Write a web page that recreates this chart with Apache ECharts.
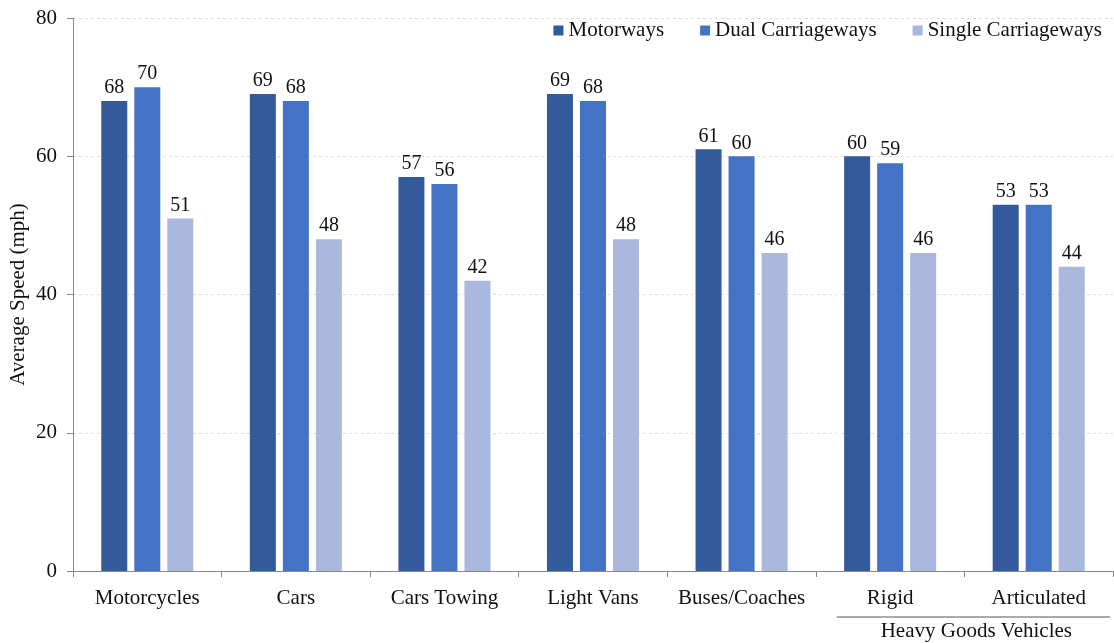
<!DOCTYPE html>
<html>
<head>
<meta charset="utf-8">
<script src="https://cdn.jsdelivr.net/npm/echarts@6/dist/echarts.min.js"></script>
<style>
  html, body { margin: 0; padding: 0; background: #fff; }
  #chart { width: 1114px; height: 643px; }
</style>
</head>
<body>
<div id="chart"></div>
<script>
// Average free-flow speeds by vehicle type and road class (mph)
const categories = ['Motorcycles', 'Cars', 'Cars Towing', 'Light Vans', 'Buses/Coaches', 'Rigid', 'Articulated'];
const motorways = [68, 69, 57, 69, 61, 60, 53];
const dualCarriageways = [70, 68, 56, 68, 60, 59, 53];
const singleCarriageways = [51, 48, 42, 48, 46, 46, 44];
const groupLabel = 'Heavy Goods Vehicles';
const groupFirst = 'Rigid';
const groupLast = 'Articulated';

const font = 'Liberation Serif, Times New Roman, serif';
const textColor = '#111';

const chart = echarts.init(document.getElementById('chart'));

function barSeries(name, data, color) {
  return {
    name: name,
    type: 'bar',
    data: data,
    barWidth: 26,
    barGap: '27%',
    itemStyle: { color: color },
    label: {
      show: true,
      position: 'top',
      distance: 3,
      fontFamily: font,
      fontSize: 20,
      color: textColor
    }
  };
}

chart.setOption({
  animation: false,
  textStyle: { fontFamily: font },
  grid: { left: 73, right: 1, top: 18, bottom: 72, containLabel: false, outerBoundsMode: 'none' },
  legend: {
    top: 15,
    right: 7,
    itemWidth: 10,
    itemHeight: 10,
    itemGap: 36,
    icon: 'rect',
    textStyle: { fontFamily: font, fontSize: 21, color: textColor }
  },
  xAxis: {
    type: 'category',
    data: categories,
    axisLine: { lineStyle: { color: '#888', width: 1 } },
    axisTick: { show: true, interval: 0, alignWithLabel: false, length: 6, lineStyle: { color: '#888' } },
    axisLabel: { interval: 0, fontFamily: font, fontSize: 21, color: textColor, margin: 17 }
  },
  yAxis: {
    type: 'value',
    min: 0,
    max: 80,
    interval: 20,
    name: 'Average Speed (mph)',
    nameLocation: 'middle',
    nameGap: 44,
    nameMoveOverlap: false,
    nameTextStyle: { fontFamily: font, fontSize: 21, color: textColor },
    axisLine: { show: true, lineStyle: { color: '#888', width: 1 } },
    axisTick: { show: true, length: 6, lineStyle: { color: '#888' } },
    axisLabel: { fontFamily: font, fontSize: 21, color: textColor, margin: 16 },
    splitLine: { show: true, lineStyle: { color: '#ddd', type: [3, 3], width: 1 } }
  },
  series: [
    barSeries('Motorways', motorways, '#345a9e'),
    barSeries('Dual Carriageways', dualCarriageways, '#4472c4'),
    barSeries('Single Carriageways', singleCarriageways, '#a9b8dc')
  ]
});

// Group bracket under the two HGV categories, placed from the category scale
const x0 = chart.convertToPixel({ xAxisIndex: 0 }, groupFirst);
const x1 = chart.convertToPixel({ xAxisIndex: 0 }, groupLast);
const step = x1 - x0;
const lineY = chart.convertToPixel({ yAxisIndex: 0 }, 0) + 46;
chart.setOption({
  graphic: [
    {
      type: 'line',
      shape: { x1: x0 - step * 0.36, y1: lineY, x2: x1 + step * 0.48, y2: lineY },
      style: { stroke: '#555', lineWidth: 1 }
    },
    {
      type: 'text',
      x: (x0 + x1) / 2 + step * 0.08,
      y: lineY + 14,
      style: {
        text: groupLabel,
        fontFamily: font,
        fontSize: 21,
        fill: textColor,
        align: 'center',
        verticalAlign: 'middle'
      }
    }
  ]
});
</script>
</body>
</html>
